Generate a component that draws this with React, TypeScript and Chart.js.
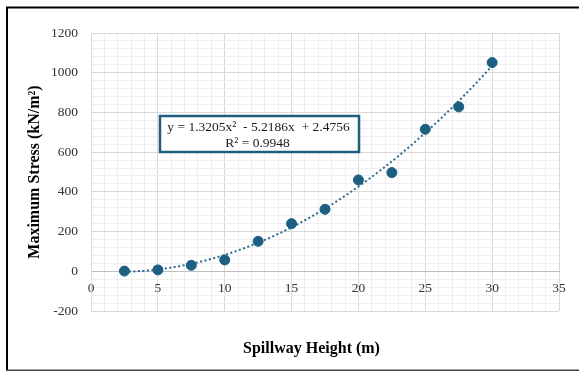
import React, { useEffect, useRef } from "react";
import { Chart, registerables } from "chart.js";

Chart.register(...registerables);

// ---- data ----
const heights = [2.5, 5, 7.5, 10, 12.5, 15, 17.5, 20, 22.5, 25, 27.5, 30];
const stresses = [1, 7, 30, 57, 151, 240, 312, 460, 497, 715, 828, 1051];

// trendline coefficients (as displayed on the chart)
const TREND_A = 1.3205;
const TREND_B = -5.2186;
const TREND_C = 2.4756;
const TREND_R2 = 0.9948;

const xTitle = "Spillway Height (m)";
const yTitle = "Maximum Stress (kN/m²)";
const eqLine1 = "y = 1.3205x²  - 5.2186x  + 2.4756";
const eqLine2 = "R² = 0.9948";

const xMin = 0, xMax = 35, xMinor = 1, xMajor = 5;
const yMin = -200, yMax = 1200, yMinor = 40, yMajor = 200;

const MARK = "#1d5f80";
const FONT = "'Liberation Serif', 'Times New Roman', serif";

function trendPoints() {
  const pts: { x: number; y: number }[] = [];
  const x0 = heights[0];
  const x1 = heights[heights.length - 1];
  const n = 110;
  for (let i = 0; i <= n; i++) {
    const x = x0 + ((x1 - x0) * i) / n;
    pts.push({ x, y: TREND_A * x * x + TREND_B * x + TREND_C });
  }
  return pts;
}

const decorPlugin = {
  id: "decor",
  afterDraw(chart: any) {
    const ctx = chart.ctx;
    const ca = chart.chartArea;
    ctx.save();
    // outer frame
    ctx.strokeStyle = "#000";
    ctx.lineWidth = 2;
    ctx.beginPath();
    ctx.moveTo(7, 371);
    ctx.lineTo(7, 7.5);
    ctx.lineTo(579, 7.5);
    ctx.stroke();
    ctx.strokeStyle = "#444";
    ctx.lineWidth = 1.5;
    ctx.beginPath();
    ctx.moveTo(6, 370.2);
    ctx.lineTo(579, 370.2);
    ctx.stroke();

    // axis titles
    ctx.fillStyle = "#000";
    ctx.font = `bold 16px ${FONT}`;
    ctx.textAlign = "center";
    ctx.textBaseline = "middle";
    ctx.fillText(xTitle, 311.5, 349);
    ctx.save();
    ctx.translate(35, 172);
    ctx.rotate(-Math.PI / 2);
    ctx.fillText(yTitle, 0, 0);
    ctx.restore();

    // equation box
    const bx = 160, by = 116, bw = 199, bh = 36;
    ctx.fillStyle = "#fff";
    ctx.fillRect(bx, by, bw, bh);
    ctx.strokeStyle = "#1f5e7e";
    ctx.lineWidth = 2.5;
    ctx.strokeRect(bx, by, bw, bh);
    ctx.fillStyle = "#1a1a1a";
    ctx.font = `13.5px ${FONT}`;
    ctx.fillText(eqLine1, 258.5, 127.5);
    ctx.fillText(eqLine2, 257.5, 143);
    ctx.restore();
  },
};

export default function App() {
  const ref = useRef<HTMLCanvasElement>(null);
  useEffect(() => {
    if (!ref.current) return;
    const chart = new Chart(ref.current, {
      type: "scatter",
      data: {
        datasets: [
          {
            label: "Stress",
            data: heights.map((h, i) => ({ x: h, y: stresses[i] })),
            backgroundColor: MARK,
            borderColor: MARK,
            pointRadius: 5,
            pointHoverRadius: 5,
            showLine: false,
          },
          {
            label: `Trend (R² = ${TREND_R2})`,
            data: trendPoints(),
            borderColor: "#2a6a90",
            borderWidth: 2,
            borderDash: [2, 2.5],
            pointRadius: 0,
            showLine: true,
            fill: false,
          },
        ],
      },
      options: {
        responsive: false,
        animation: false,
        devicePixelRatio: 1,
        layout: { padding: { top: 33, right: 20, bottom: 60, left: 0 } },
        plugins: {
          legend: { display: false },
          tooltip: { enabled: false },
        },
        scales: {
          x: {
            type: "linear",
            position: { y: 0 } as any,
            min: xMin,
            max: xMax,
            ticks: {
              stepSize: xMinor,
              autoSkip: false,
              maxRotation: 0,
              padding: 9,
              color: "#333",
              font: { family: FONT, size: 13.5 },
              callback: (v: any) => (Number(v) % xMajor === 0 ? String(v) : ""),
            },
            grid: {
              drawTicks: false,
              color: (c: any) =>
                c.tick && c.tick.value % xMajor === 0 ? "#d9d9d9" : "#efefef",
              lineWidth: 1,
            },
            border: { display: true, color: "#bfbfbf", width: 1 },
          },
          y: {
            type: "linear",
            min: yMin,
            max: yMax,
            afterFit: (s: any) => {
              s.width = 91;
            },
            ticks: {
              stepSize: yMinor,
              autoSkip: false,
              padding: 13,
              color: "#333",
              font: { family: FONT, size: 13.5 },
              callback: (v: any) => (Number(v) % yMajor === 0 ? String(v) : ""),
            },
            grid: {
              drawTicks: false,
              color: (c: any) =>
                c.tick && c.tick.value % yMajor === 0 ? "#d9d9d9" : "#efefef",
              lineWidth: 1,
            },
            border: { display: true, color: "#d9d9d9", width: 1 },
          },
        },
      },
      plugins: [decorPlugin],
    });
    return () => chart.destroy();
  }, []);
  return (
    <div style={{ position: "fixed", left: 0, top: 0, width: 579, height: 371, background: "#fff" }}>
      <canvas ref={ref} width={579} height={371} style={{ display: "block", width: 579, height: 371 }} />
    </div>
  );
}
